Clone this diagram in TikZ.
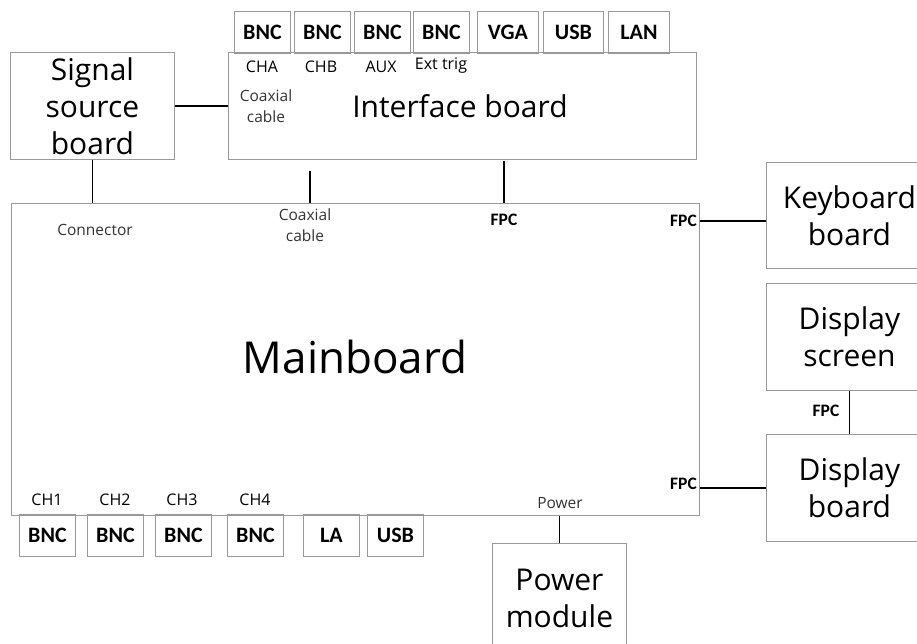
\documentclass[tikz,border=0pt]{standalone}
\usepackage{fontspec}
\setmainfont{Carlito}
\newfontfamily\os{Open Sans}
\begin{document}
\begin{tikzpicture}[x=1pt,y=-1pt,
  box/.style={draw=black!40,line width=0.9pt,inner sep=0pt,anchor=north west,align=center},
  big/.style={font=\os\fontsize{30}{37}\selectfont},
  port/.style={box,font=\bfseries\fontsize{22}{24}\selectfont,minimum height=42},
  lab/.style={font=\os\fontsize{15.5}{21}\selectfont,text=black!80,inner sep=0pt,align=center},
  chl/.style={font=\os\fontsize{16}{20}\selectfont,text=black,inner sep=0pt},
  fpc/.style={font=\bfseries\fontsize{17.5}{19}\selectfont,inner sep=0pt},
  conn/.style={line width=1.3pt,black}]
\useasboundingbox (0,0) rectangle (917,644);
\clip (0,0) rectangle (917,644);
% boxes
\node[box,big,minimum width=164,minimum height=107] (sig) at (10,52) {Signal\\source\\board};
\node[box,minimum width=468,minimum height=107] (iface) at (228,52) {};
\node[big] at (460,106) {Interface board};
\node[box,minimum width=688,minimum height=312] (main) at (11,203) {};
\node[font=\os\fontsize{44}{48}\selectfont] at (355,357) {Mainboard};
\node[box,big,minimum width=166,minimum height=106] (kb) at (766,162) {Keyboard\\board};
\node[box,big,minimum width=166,minimum height=107] (ds) at (766,283) {Display\\screen};
\node[box,big,minimum width=166,minimum height=107] (db) at (766,434) {Display\\board};
\node[box,big,minimum width=134,minimum height=110] (pm) at (492,543) {Power\\module};
% top ports
\node[port,minimum width=56] (t1) at (234,11) {BNC};
\node[port,minimum width=56] (t2) at (294,11) {BNC};
\node[port,minimum width=56] (t3) at (354,11) {BNC};
\node[port,minimum width=56] (t4) at (413,11) {BNC};
\node[port,minimum width=61] (t5) at (477,11) {VGA};
\node[port,minimum width=60] (t6) at (543,11) {USB};
\node[port,minimum width=61] (t7) at (608,11) {LAN};
% bottom ports
\node[port,minimum width=56] (b1) at (19,514) {BNC};
\node[port,minimum width=56] (b2) at (87,514) {BNC};
\node[port,minimum width=56] (b3) at (155,514) {BNC};
\node[port,minimum width=56] (b4) at (227,514) {BNC};
\node[port,minimum width=56] (b5) at (303,514) {LA};
\node[port,minimum width=56] (b6) at (367,514) {USB};
% labels
\node[chl] (lcha) at (262,67) {CHA};
\node[chl] (lchb) at (321,67) {CHB};
\node[chl] (laux) at (381,67) {AUX};
\node[chl] (lext) at (441,66) {Ext trig};
\node[lab] (lcoax1) at (266,106) {Coaxial\\cable};
\node[lab] (lconn) at (95,230) {Connector};
\node[lab] (lcoax2) at (305,225) {Coaxial\\cable};
\node[fpc] (lfpc1) at (504,220) {FPC};
\node[fpc,anchor=east] (lfpc2) at (697,221) {FPC};
\node[fpc,anchor=east] (lfpc3) at (697,484) {FPC};
\node[fpc] (lfpc4) at (826,411) {FPC};
\node[lab] (lpow) at (560,503) {Power};
\node[chl] (lch1) at (47,500) {CH1};
\node[chl] (lch2) at (115,500) {CH2};
\node[chl] (lch3) at (182,500) {CH3};
\node[chl] (lch4) at (255,500) {CH4};
% connectors
\coordinate (c1) at (310,171);
\coordinate (c2) at (504,161);
\coordinate (c3) at (766,221);
\draw[conn] (sig) -- (iface);
\draw[conn] (sig.south) -- (sig.south |- main.north);
\draw[conn] (c1) -- (c1 |- main.north);
\draw[conn] (c2) -- (c2 |- main.north);
\draw[conn] (c3 -| main.east) -- (c3);
\draw[conn] (db.west) -- (db.west -| main.east);
\draw[conn] (ds.south) -- (db.north);
\draw[conn] (pm.north) -- (pm.north |- main.south);
\end{tikzpicture}
\end{document}
